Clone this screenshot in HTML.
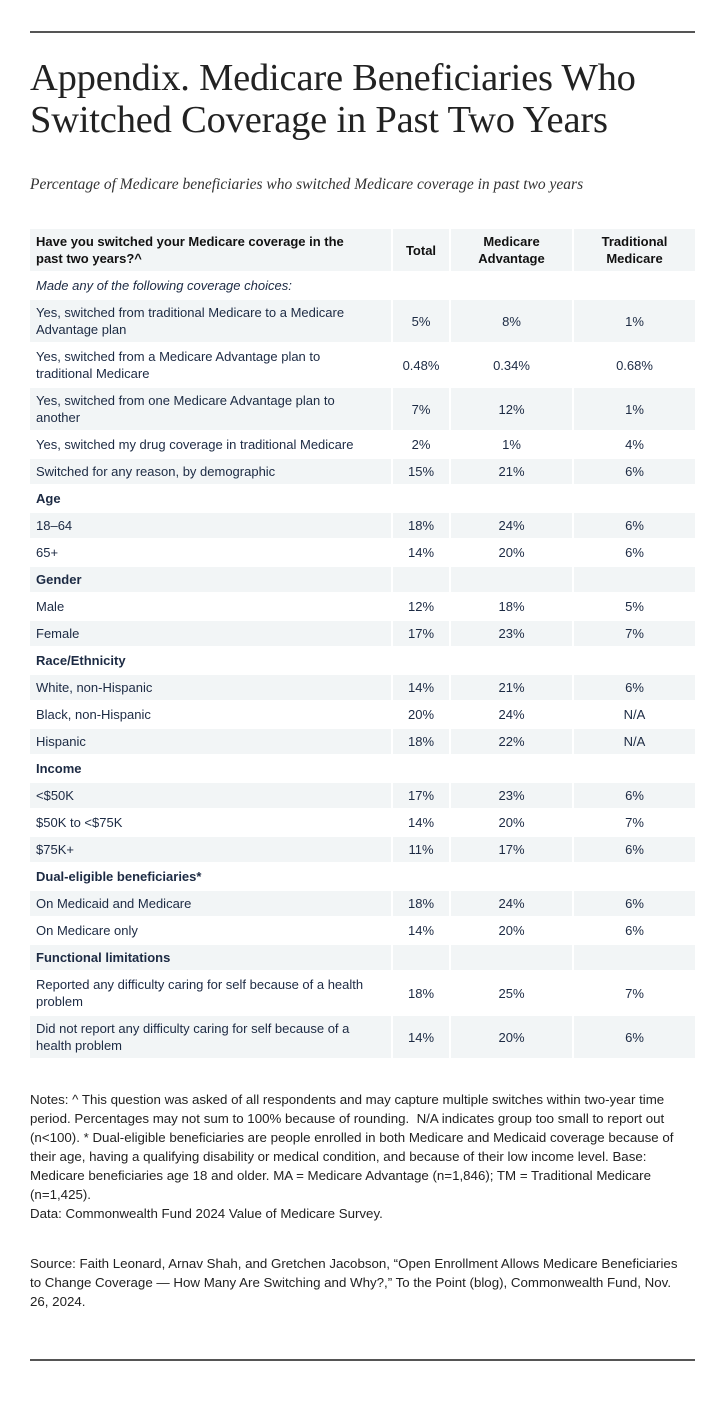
<!DOCTYPE html>
<html><head><meta charset="utf-8"><style>
body{margin:0;background:#fff;width:725px;height:1422px;position:relative;font-family:"Liberation Sans",sans-serif;color:#1c2a43}
.rule{position:absolute;left:30px;width:665px;height:2px;background:#555}
h1{position:absolute;left:30px;top:57px;margin:0;font-family:"Liberation Serif",serif;font-weight:normal;font-size:38.5px;line-height:42px;color:#222;letter-spacing:-0.2px}
.sub{position:absolute;left:30px;top:176px;font-family:"Liberation Serif",serif;font-style:italic;font-size:15.5px;color:#333}
table{position:absolute;left:28px;top:227px;border-collapse:separate;border-spacing:2px;font-size:13px;table-layout:fixed;width:669px}
td{padding:0 6px;vertical-align:middle;line-height:17px;overflow:hidden}
td:first-child{padding-right:22px}
td.n{text-align:center;padding:0 2px}
tr.g td{background:#f2f5f6}
tr.s td{height:25px}
tr.d td{height:42px}
tr.h td{height:42px;font-weight:bold;background:#f2f5f6;color:#111}
tr.b td:first-child{font-weight:bold}
.notes{position:absolute;left:30px;top:1090px;width:665px;font-size:13.3px;line-height:19px;color:#222}
.src{position:absolute;left:30px;top:1254px;width:655px;font-size:13.3px;line-height:19px;color:#222}
</style></head><body>
<div class="rule" style="top:31px"></div>
<h1>Appendix. Medicare Beneficiaries Who<br>Switched Coverage in Past Two Years</h1>
<div class="sub">Percentage of Medicare beneficiaries who switched Medicare coverage in past two years</div>
<table>
<colgroup><col style="width:361px"><col style="width:56px"><col style="width:121px"><col style="width:121px"></colgroup>
<tr class="h"><td>Have you switched your Medicare coverage in the past two years?^</td><td class="n">Total</td><td class="n">Medicare Advantage</td><td class="n">Traditional Medicare</td></tr>
<tr class="s"><td colspan="4" style="font-style:italic">Made any of the following coverage choices:</td></tr>
<tr class="d g"><td>Yes, switched from traditional Medicare to a Medicare Advantage plan</td><td class="n">5%</td><td class="n">8%</td><td class="n">1%</td></tr>
<tr class="d"><td>Yes, switched from a Medicare Advantage plan to traditional Medicare</td><td class="n">0.48%</td><td class="n">0.34%</td><td class="n">0.68%</td></tr>
<tr class="d g"><td>Yes, switched from one Medicare Advantage plan to another</td><td class="n">7%</td><td class="n">12%</td><td class="n">1%</td></tr>
<tr class="s"><td>Yes, switched my drug coverage in traditional Medicare</td><td class="n">2%</td><td class="n">1%</td><td class="n">4%</td></tr>
<tr class="s g"><td>Switched for any reason, by demographic</td><td class="n">15%</td><td class="n">21%</td><td class="n">6%</td></tr>
<tr class="s b"><td>Age</td><td></td><td></td><td></td></tr>
<tr class="s g"><td>18–64</td><td class="n">18%</td><td class="n">24%</td><td class="n">6%</td></tr>
<tr class="s"><td>65+</td><td class="n">14%</td><td class="n">20%</td><td class="n">6%</td></tr>
<tr class="s g b"><td>Gender</td><td></td><td></td><td></td></tr>
<tr class="s"><td>Male</td><td class="n">12%</td><td class="n">18%</td><td class="n">5%</td></tr>
<tr class="s g"><td>Female</td><td class="n">17%</td><td class="n">23%</td><td class="n">7%</td></tr>
<tr class="s b"><td>Race/Ethnicity</td><td></td><td></td><td></td></tr>
<tr class="s g"><td>White, non-Hispanic</td><td class="n">14%</td><td class="n">21%</td><td class="n">6%</td></tr>
<tr class="s"><td>Black, non-Hispanic</td><td class="n">20%</td><td class="n">24%</td><td class="n">N/A</td></tr>
<tr class="s g"><td>Hispanic</td><td class="n">18%</td><td class="n">22%</td><td class="n">N/A</td></tr>
<tr class="s b"><td>Income</td><td></td><td></td><td></td></tr>
<tr class="s g"><td>&lt;$50K</td><td class="n">17%</td><td class="n">23%</td><td class="n">6%</td></tr>
<tr class="s"><td>$50K to &lt;$75K</td><td class="n">14%</td><td class="n">20%</td><td class="n">7%</td></tr>
<tr class="s g"><td>$75K+</td><td class="n">11%</td><td class="n">17%</td><td class="n">6%</td></tr>
<tr class="s b"><td>Dual-eligible beneficiaries*</td><td></td><td></td><td></td></tr>
<tr class="s g"><td>On Medicaid and Medicare</td><td class="n">18%</td><td class="n">24%</td><td class="n">6%</td></tr>
<tr class="s"><td>On Medicare only</td><td class="n">14%</td><td class="n">20%</td><td class="n">6%</td></tr>
<tr class="s g b"><td>Functional limitations</td><td></td><td></td><td></td></tr>
<tr class="d"><td>Reported any difficulty caring for self because of a health problem</td><td class="n">18%</td><td class="n">25%</td><td class="n">7%</td></tr>
<tr class="d g"><td>Did not report any difficulty caring for self because of a health problem</td><td class="n">14%</td><td class="n">20%</td><td class="n">6%</td></tr>
</table>
<div class="notes">Notes: ^ This question was asked of all respondents and may capture multiple switches within two-year time period. Percentages may not sum to 100% because of rounding.&nbsp; N/A indicates group too small to report out (n&lt;100). * Dual-eligible beneficiaries are people enrolled in both Medicare and Medicaid coverage because of their age, having a qualifying disability or medical condition, and because of their low income level. Base: Medicare beneficiaries age 18 and older. MA = Medicare Advantage (n=1,846); TM = Traditional Medicare (n=1,425).<br>Data: Commonwealth Fund 2024 Value of Medicare Survey.</div>
<div class="src">Source: Faith Leonard, Arnav Shah, and Gretchen Jacobson, “Open Enrollment Allows Medicare Beneficiaries to Change Coverage — How Many Are Switching and Why?,” To the Point (blog), Commonwealth Fund, Nov. 26, 2024.</div>
<div class="rule" style="top:1359px"></div>
</body></html>
